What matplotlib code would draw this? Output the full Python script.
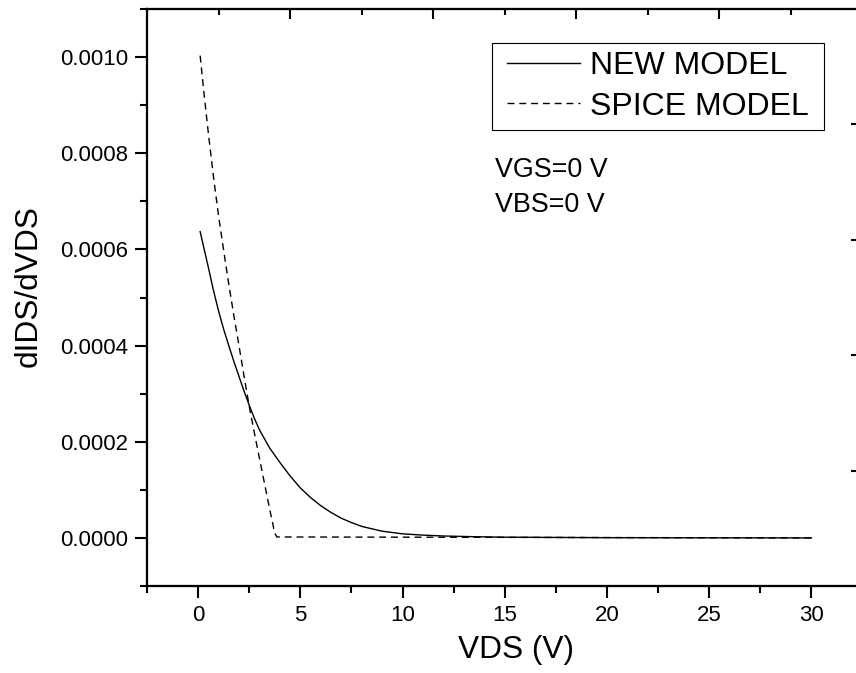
import matplotlib
matplotlib.use("Agg")
import matplotlib.pyplot as plt
from matplotlib.ticker import MultipleLocator, FormatStrFormatter, FixedLocator, NullFormatter
from matplotlib.path import Path

plt.rcParams["font.family"] = ["Liberation Sans", "DejaVu Sans"]

# NEW MODEL (solid)
vds_new = [0.1, 0.3, 0.5, 0.75, 1.0, 1.25, 1.5, 1.75, 2.0, 2.25, 2.5, 2.75, 3.0,
           3.5, 4.0, 4.5, 5.0, 5.5, 6.0, 6.5, 7.0, 7.5, 8.0, 8.5, 9.0, 10.0,
           11.0, 12.0, 13.5, 15.0, 20.0, 25.0, 30.0]
didv_new = [0.000637, 0.000600, 0.000563, 0.000515, 0.000472, 0.000434, 0.000400,
            0.000367, 0.000336, 0.000305, 0.000276, 0.000249, 0.000225,
            0.000187, 0.000157, 0.000129, 0.000104, 0.000084, 0.000067, 0.000053,
            0.000041, 0.000032, 0.000024, 0.000019, 0.000014, 0.0000085,
            0.0000058, 0.000004, 0.0000025, 0.0000015, 0.0000005, 0.0000002, 0.0]

# SPICE MODEL (dashed)
vds_spice = [0.1, 0.3, 0.5, 0.75, 1.0, 1.25, 1.5, 1.75, 2.0, 2.25, 2.5, 2.75, 3.0,
             3.25, 3.5, 3.65, 3.75, 3.85, 30.0]
didv_spice = [0.001003, 0.000920, 0.000842, 0.000752, 0.000670, 0.000598, 0.000528,
              0.000462, 0.000400, 0.000336, 0.000274, 0.000219, 0.000166,
              0.000113, 0.000060, 0.000030, 0.000010, 0.000002, 0.0]

W, H = 856, 673
fig = plt.figure(figsize=(W / 100, H / 100), dpi=100)
# axes box in pixels: left 147, right ~862 (past the image edge), top 9, bottom 586
ax = fig.add_axes([147 / W, (H - 586) / H, (862.4 - 147) / W, (586 - 9) / H])

ax.plot(vds_new, didv_new, color="black", lw=1.0, label="NEW MODEL")
ax.plot(vds_spice, didv_spice, color="black", lw=1.0, dashes=(5, 3.5), label="SPICE MODEL")

ax.set_xlim(-2.5, 32.5)
ax.set_ylim(-0.0001, 0.0011)
ax.xaxis.set_major_locator(MultipleLocator(5))
ax.xaxis.set_minor_locator(MultipleLocator(2.5))
ax.yaxis.set_major_locator(MultipleLocator(0.0002))
ax.yaxis.set_minor_locator(MultipleLocator(0.0001))
ax.yaxis.set_major_formatter(FormatStrFormatter("%.4f"))
ax.tick_params(which="major", direction="out", length=8.6, width=1.5, labelsize=16, pad=5)
ax.tick_params(which="minor", direction="out", length=5, width=1.5)

for s in ax.spines.values():
    s.set_linewidth(1.5)

ax.set_xlabel("VDS (V)", fontsize=22.8)
ax.xaxis.set_label_coords((516.5 - 147) / (862.4 - 147), -(658 - 586) / (586 - 9))
ax.xaxis.label.set_va("baseline")
ax.set_ylabel("dIDS/dVDS", fontsize=22.8, rotation=90, rotation_mode="anchor",
              ha="center", va="baseline")
ax.yaxis.set_label_coords(-(147 - 36.7) / (862.4 - 147), (586 - 286) / (586 - 9))

# extra tick-only axes on top and right (Origin style layers)
ax_top = ax.twiny()
ax_top.set_xlim(0, 5)
ax_top.xaxis.set_major_locator(FixedLocator([1, 2, 3, 4]))
ax_top.xaxis.set_minor_locator(FixedLocator([0.5, 1.5, 2.5, 3.5, 4.5]))
ax_top.xaxis.set_major_formatter(NullFormatter())
ax_top.tick_params(which="major", direction="in", length=7.2, width=1.5)
ax_top.tick_params(which="minor", direction="in", length=4.3, width=1.5)

ax_right = ax.twinx()
ax_right.set_ylim(0, 5)
ax_right.yaxis.set_major_locator(FixedLocator([1, 2, 3, 4]))
ax_right.yaxis.set_major_formatter(NullFormatter())
ax_right.tick_params(which="major", direction="in", length=8, width=1.5)

for a in (ax_top, ax_right):
    for s in a.spines.values():
        s.set_linewidth(1.5)


def wide_box(x0, y0, width, height, mutation_size):
    # legend frame with more room left/right than top/bottom
    px = 0.2 * mutation_size
    return Path([(x0 - px, y0), (x0 + width + px, y0), (x0 + width + px, y0 + height),
                 (x0 - px, y0 + height), (x0 - px, y0)], closed=True)


leg = ax_right.legend(*ax.get_legend_handles_labels(), loc="upper left",
                      bbox_to_anchor=(498.4 / W, 1 - 42.7 / H), bbox_transform=fig.transFigure,
                      borderaxespad=0, fontsize=23, frameon=True, fancybox=False,
                      borderpad=0.26, labelspacing=0.33, handlelength=2.3, handletextpad=0.31)
frame = leg.get_frame()
frame.set_edgecolor("black")
frame.set_linewidth(0.8)
frame.set_alpha(1)
frame.set_boxstyle(wide_box)

fig.text(495 / W, 1 - 176.7 / H, "VGS=0 V", fontsize=19.4, va="baseline")
fig.text(495 / W, 1 - 211.7 / H, "VBS=0 V", fontsize=19.4, va="baseline")

fig.savefig("out.png", dpi=100)
